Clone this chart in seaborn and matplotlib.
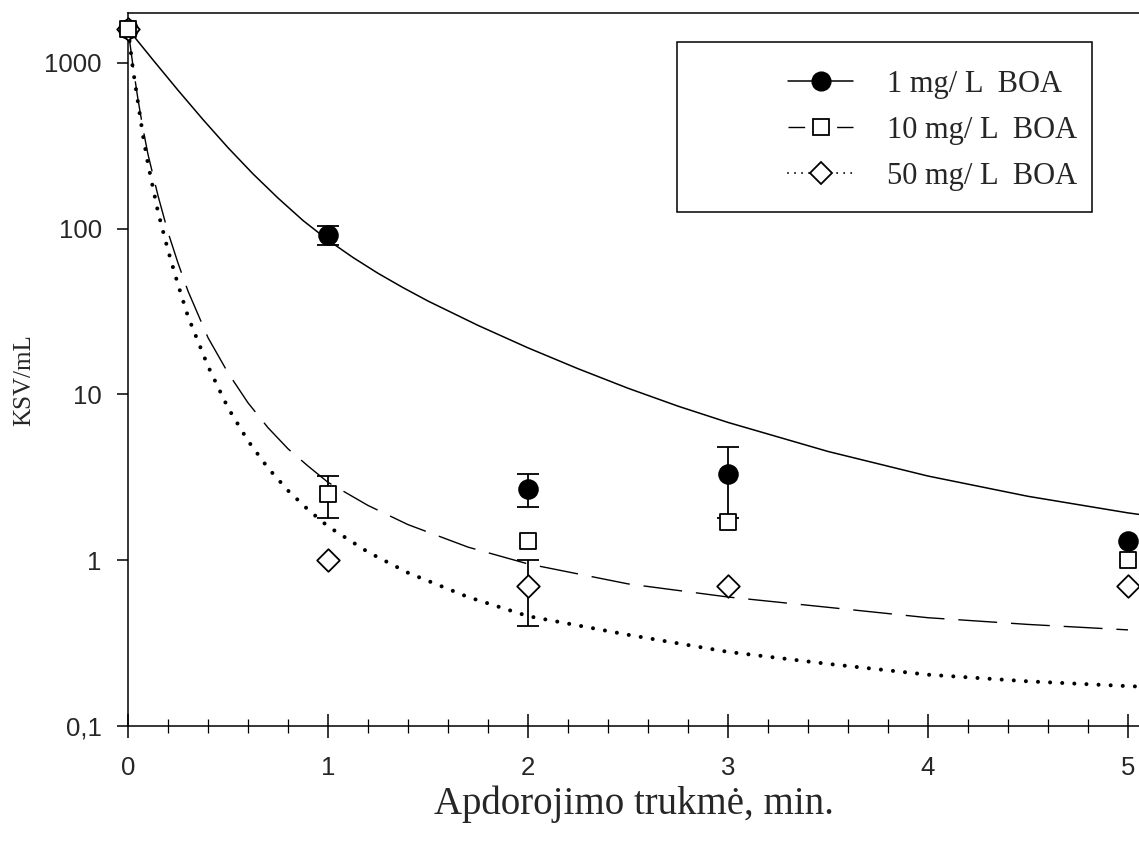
import numpy as np
import matplotlib
matplotlib.use("Agg")
import matplotlib.pyplot as plt
from matplotlib.lines import Line2D
from matplotlib.patches import Rectangle
from matplotlib.ticker import MultipleLocator, NullLocator, FixedLocator, FixedFormatter
import seaborn as sns

# Measured bacterial counts (KSV/mL) after treatment
time_min = [0, 1, 2, 3, 5]
ksv_1 = [1600, 92, 2.7, 3.3, 1.3]
err_1 = [0, 12, 0.6, 1.5, 0]
ksv_10 = [1600, 2.5, 1.3, 1.7, 1.0]
err_10 = [0, 0.7, 0, 0, 0]
ksv_50 = [1600, 1.0, 0.7, 0.7, 0.7]
err_50 = [0, 0, 0.3, 0, 0]

# Fitted decay curves
fit_t_1 = [0, 0.125, 0.25, 0.375, 0.5, 0.625, 0.75, 0.875, 1, 1.125, 1.25,
           1.375, 1.5, 1.75, 2, 2.25, 2.5, 2.75, 3, 3.5, 4, 4.5, 5, 5.055]
fit_1 = [1600, 1042, 684, 455, 308, 214, 153, 112, 85.3, 67.0, 53.8,
         44.1, 36.6, 26.1, 19.1, 14.3, 10.9, 8.5, 6.78, 4.53, 3.22, 2.43, 1.93, 1.89]
fit_t_10 = [0, 0.025, 0.05, 0.075, 0.1, 0.15, 0.2, 0.25, 0.3, 0.4, 0.5, 0.6,
            0.7, 0.8, 0.9, 1.0, 1.2, 1.4, 1.7, 2.0, 2.5, 3.0, 3.5, 4.0, 4.5, 5.0]
fit_10 = [1600, 955, 600, 400, 280, 158, 95, 62, 42, 22, 13.5, 8.9,
          6.3, 4.7, 3.7, 2.95, 2.14, 1.64, 1.2, 0.95, 0.72, 0.6, 0.52, 0.45, 0.41, 0.38]
fit_t_50 = [0, 0.025, 0.05, 0.075, 0.1, 0.15, 0.2, 0.25, 0.3, 0.4, 0.5, 0.6,
            0.7, 0.8, 0.9, 1.0, 1.2, 1.4, 1.7, 2.0, 2.5, 3.0, 3.5, 4.0, 4.5,
            5.0, 5.055]
fit_50 = [1600, 910, 575, 363, 245, 126, 74, 46, 29.5, 14.8, 8.3, 5.25,
          3.6, 2.63, 2.02, 1.6, 1.12, 0.84, 0.6, 0.46, 0.355, 0.28, 0.237,
          0.204, 0.186, 0.174, 0.173]

series_labels = ["1 mg/ L  BOA", "10 mg/ L  BOA", "50 mg/ L  BOA"]
y_ticks = [0.1, 1, 10, 100, 1000]
y_tick_labels = ["0,1", "1", "10", "100", "1000"]
x_ticks = [0, 1, 2, 3, 4, 5]

sns.set_theme(style="white")
plt.rcParams["font.family"] = ["Liberation Sans", "DejaVu Sans"]
SERIF = ["Liberation Serif", "DejaVu Serif"]

fig = plt.figure(figsize=(11.39, 8.44), dpi=100)
ax = fig.add_axes([0.1124, 0.1398, 0.8876, 0.8448])
ax.set_yscale("log")

dash_long = (0, (28, 10))
dot_round = (0, (0.01, 3.0))

sns.lineplot(x=fit_t_1, y=fit_1, ax=ax, color="black", lw=1.1,
             estimator=None, sort=False, zorder=2)
sns.lineplot(x=fit_t_10, y=fit_10, ax=ax, color="black", lw=1.0,
             estimator=None, sort=False, zorder=2, linestyle=dash_long)
sns.lineplot(x=fit_t_50, y=fit_50, ax=ax, color="black", lw=2.9,
             estimator=None, sort=False, zorder=2, linestyle=dot_round,
             dash_capstyle="round")

series = [
    (ksv_1, err_1, "o", "black", 13.5, 3),
    (ksv_50, err_50, "D", "white", 11.5, 4),
    (ksv_10, err_10, "s", "white", 11.5, 5),
]
t = np.array(time_min, dtype=float)
for vals, errs, mk, face, ms, z in series:
    v = np.array(vals, dtype=float)
    e = np.array(errs, dtype=float)
    has_err = e > 0
    if has_err.any():
        ax.errorbar(t[has_err], v[has_err], yerr=e[has_err], fmt="none",
                    ecolor="black", elinewidth=1.3, capsize=8, capthick=1.3,
                    zorder=z)
    sns.scatterplot(x=t, y=v, ax=ax, marker=mk, s=ms ** 2, color=face,
                    edgecolor="black", linewidth=1.3, zorder=z + 0.5,
                    clip_on=False)

ax.set_xlim(0, 5.055)
ax.set_ylim(0.1, 2000)

ax.yaxis.set_major_locator(FixedLocator(y_ticks))
ax.yaxis.set_major_formatter(FixedFormatter(y_tick_labels))
ax.yaxis.set_minor_locator(NullLocator())
ax.xaxis.set_major_locator(FixedLocator(x_ticks))
ax.xaxis.set_minor_locator(MultipleLocator(0.2))

ax.tick_params(axis="y", which="major", direction="out", length=8, width=1.1,
               color="black", labelsize=18.5, pad=11, left=True)
ax.tick_params(axis="x", which="major", direction="inout", length=17, width=1.1,
               color="black", labelsize=18.5, pad=13, bottom=True)
ax.tick_params(axis="x", which="minor", direction="inout", length=9.5, width=0.9,
               color="black", bottom=True)

for side in ["left", "bottom", "top"]:
    ax.spines[side].set_visible(True)
    ax.spines[side].set_color("black")
    ax.spines[side].set_linewidth(1.1)
ax.spines["right"].set_visible(False)
ax.grid(False)

ax.set_xlabel("Apdorojimo trukmė, min.", fontsize=28, family=SERIF)
ax.xaxis.set_label_coords(0.5, -0.084)
ax.set_ylabel("KSV/mL", fontsize=18, family=SERIF)
ax.yaxis.set_label_coords(-0.092, 0.485)

handles = [
    Line2D([], [], color="black", lw=1.1, marker="o", markersize=13.5,
           markerfacecolor="black", markeredgecolor="black"),
    Line2D([], [], color="black", lw=1.0, linestyle=(0, (12, 23)), marker="s",
           markersize=11.5, markerfacecolor="white", markeredgecolor="black",
           markeredgewidth=1.3),
    Line2D([], [], color="black", lw=1.4, linestyle=(0, (0.01, 3.6)),
           dash_capstyle="round", marker="D", markersize=11.5,
           markerfacecolor="white", markeredgecolor="black", markeredgewidth=1.3),
]
fig.legend(handles, series_labels, loc="upper left",
           bbox_to_anchor=(0.692, 0.917), frameon=False, borderpad=0,
           borderaxespad=0, handlelength=2.12, handletextpad=1.1,
           labelspacing=0.55, prop={"family": SERIF, "size": 22})
fig.add_artist(Rectangle((0.5944, 0.7488), 0.3644, 0.2014, transform=fig.transFigure,
                         fill=False, edgecolor="black", linewidth=1.1))

fig.savefig("out.png", dpi=100)
